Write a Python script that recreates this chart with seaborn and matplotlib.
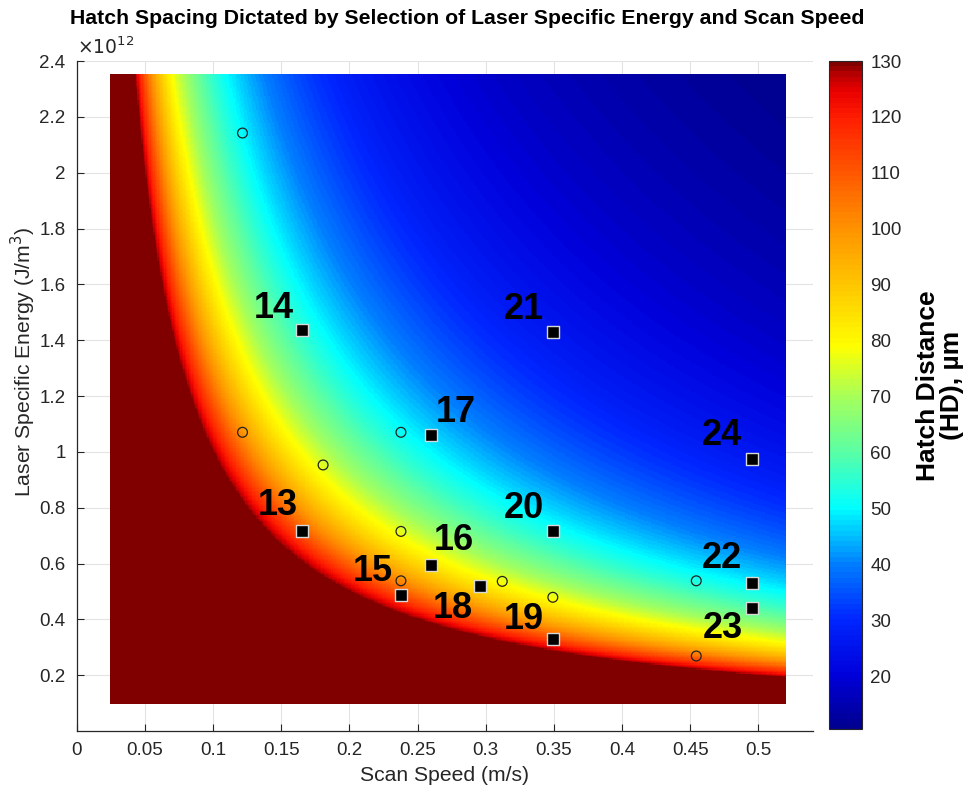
import numpy as np
import pandas as pd
import matplotlib
matplotlib.use("Agg")
import matplotlib.pyplot as plt
from matplotlib.colors import LinearSegmentedColormap
import seaborn as sns

# ---------------- data ----------------
# hatch distance field: HD (um) = HD_CONSTANT / (E * v), clipped at HD_MAX
HD_CONSTANT = 1.3e13
HD_MAX = 130
speed_range = [0.025, 0.52]          # m/s
energy_range = [0.1e12, 2.35e12]     # J/m^3

# selected process points (filled squares, numbered)
sq_ids = ["13", "14", "15", "16", "17", "18", "19", "20", "21", "22", "23", "24"]
sq_speed = [0.165, 0.165, 0.238, 0.260, 0.260, 0.296, 0.349, 0.349, 0.349, 0.4955, 0.4955, 0.4955]
sq_energy = [0.716e12, 1.436e12, 0.487e12, 0.595e12, 1.060e12, 0.521e12, 0.3295e12,
             0.716e12, 1.429e12, 0.530e12, 0.4405e12, 0.974e12]
# label offsets in pixels (dx right, dy down) relative to the square
lab_dx = [-24, -28, -28, 23, 25, -27, -29, -29, -29, -30, -30, -30]
lab_dy = [-26, -22, -24, -24, -23, 23, -20, -23, -23, -25, 20, -24]

# other points (open circles)
ci_speed = [0.1216, 0.1216, 0.1807, 0.2378, 0.2378, 0.2378, 0.3121, 0.3492, 0.4544, 0.4544]
ci_energy = [2.142e12, 1.070e12, 0.953e12, 1.070e12, 0.715e12, 0.538e12, 0.536e12,
             0.479e12, 0.538e12, 0.2686e12]

cbar_ticks = [20, 30, 40, 50, 60, 70, 80, 90, 100, 110, 120, 130]
x_ticks = [0, 0.05, 0.1, 0.15, 0.2, 0.25, 0.3, 0.35, 0.4, 0.45, 0.5]
y_ticks = [0.2e12, 0.4e12, 0.6e12, 0.8e12, 1.0e12, 1.2e12, 1.4e12, 1.6e12,
           1.8e12, 2.0e12, 2.2e12, 2.4e12]

# ---------------- style ----------------
sns.set_theme(style="white")
plt.rcParams['font.family'] = ['Liberation Sans', 'DejaVu Sans']
TXT = "#262626"

fig = plt.figure(figsize=(9.76, 7.9), dpi=100)
W, H = 976, 790
def px_axes(x0, y0, x1, y1):
    return [x0 / W, 1 - y1 / H, (x1 - x0) / W, (y1 - y0) / H]

ax = fig.add_axes(px_axes(76.7, 61, 813, 731))
cax = fig.add_axes(px_axes(829, 61, 862, 729))

# field
v = np.linspace(speed_range[0], speed_range[1], 500)
e = np.linspace(energy_range[0], energy_range[1], 500)
V, E = np.meshgrid(v, e)
HD = np.minimum(HD_CONSTANT / (V * E), HD_MAX)
vmin = HD.min()

# jet-like colour ramp as seen on the reference colorbar (value -> colour)
nodes = [(vmin, (0.0, 0.0, 0.57)), (20, (0.0, 0.0, 0.86)), (30, (0.0, 0.15, 1.0)),
         (40, (0.0, 0.5, 1.0)), (50, (0.0, 1.0, 1.0)), (60, (0.35, 1.0, 0.65)),
         (70, (0.65, 1.0, 0.35)), (79, (1.0, 1.0, 0.0)), (90, (1.0, 0.78, 0.0)),
         (100, (1.0, 0.58, 0.0)), (110, (1.0, 0.35, 0.0)), (120, (1.0, 0.12, 0.0)),
         (125, (0.92, 0.0, 0.0)), (128, (0.72, 0.0, 0.0)), (HD_MAX, (0.5, 0.0, 0.0))]
cmap = LinearSegmentedColormap.from_list(
    "jetlike", [((val - vmin) / (HD_MAX - vmin), col) for val, col in nodes], N=128)

mesh = ax.pcolormesh(V, E, HD, cmap=cmap, vmin=vmin, vmax=HD_MAX,
                     shading="auto", zorder=1, rasterized=True)

# points via seaborn
df_c = pd.DataFrame({"speed": ci_speed, "energy": ci_energy})
sns.scatterplot(data=df_c, x="speed", y="energy", ax=ax, marker="o", s=50,
                facecolor="none", edgecolor="#222222", linewidth=0.9, zorder=3)
df_s = pd.DataFrame({"speed": sq_speed, "energy": sq_energy, "id": sq_ids})
sns.scatterplot(data=df_s, x="speed", y="energy", ax=ax, marker="s", s=85,
                color="black", edgecolor="#d8d8d8", linewidth=1.0, zorder=4)

for sx, sy, lid, dx, dy in zip(sq_speed, sq_energy, sq_ids, lab_dx, lab_dy):
    ax.annotate(lid, (sx, sy), xytext=(dx * 0.72, -dy * 0.72), textcoords="offset points",
                ha="center", va="center", fontsize=26, fontweight="bold",
                color="black", zorder=5)

# axes
ax.set_xlim(0, 0.54)
ax.set_ylim(0, 2.4e12)
ax.set_xticks(x_ticks)
ax.set_xticklabels([f"{t:g}" for t in x_ticks])
ax.set_yticks(y_ticks)
ax.set_yticklabels([f"{t/1e12:g}" for t in y_ticks])
ax.grid(True, color="#e3e3e3", linewidth=0.8, zorder=0)
ax.set_axisbelow(True)
for s in ["top", "right"]:
    ax.spines[s].set_visible(False)
for s in ["left", "bottom"]:
    ax.spines[s].set_color(TXT)
    ax.spines[s].set_linewidth(0.9)
ax.tick_params(direction="in", length=5, width=0.8, colors=TXT, labelsize=13.5,
               bottom=True, left=True, pad=8)
ax.set_xlabel("Scan Speed (m/s)", fontsize=15.2, color=TXT, labelpad=5)
ax.set_ylabel("Laser Specific Energy (J/m$^3$)", fontsize=15.2, color=TXT, labelpad=6)
ax.yaxis.set_label_coords(-0.053, 0.551)
ax.text(0.0, 1.004, r"$\times10^{12}$", transform=ax.transAxes, fontsize=13.5,
        color=TXT, ha="left", va="bottom")
fig.text(0.4785, 0.977, "Hatch Spacing Dictated by Selection of Laser Specific Energy and Scan Speed",
         ha="center", va="center", fontsize=15.3, fontweight="bold", color="black")

# colorbar
cb = fig.colorbar(mesh, cax=cax)
cb.set_ticks(cbar_ticks)
cb.outline.set_linewidth(0.8)
cb.outline.set_edgecolor(TXT)
cax.tick_params(direction="in", length=4, width=0.8, colors=TXT, labelsize=13.5, pad=6)
fig.text(0.9635, 0.512, "Hatch Distance\n(HD), µm", rotation=90, ha="center", va="center",
         fontsize=19, fontweight="bold", color="black", linespacing=1.0,
         family=["Liberation Sans Narrow", "Liberation Sans", "DejaVu Sans"])

fig.savefig("out.png", dpi=100)
